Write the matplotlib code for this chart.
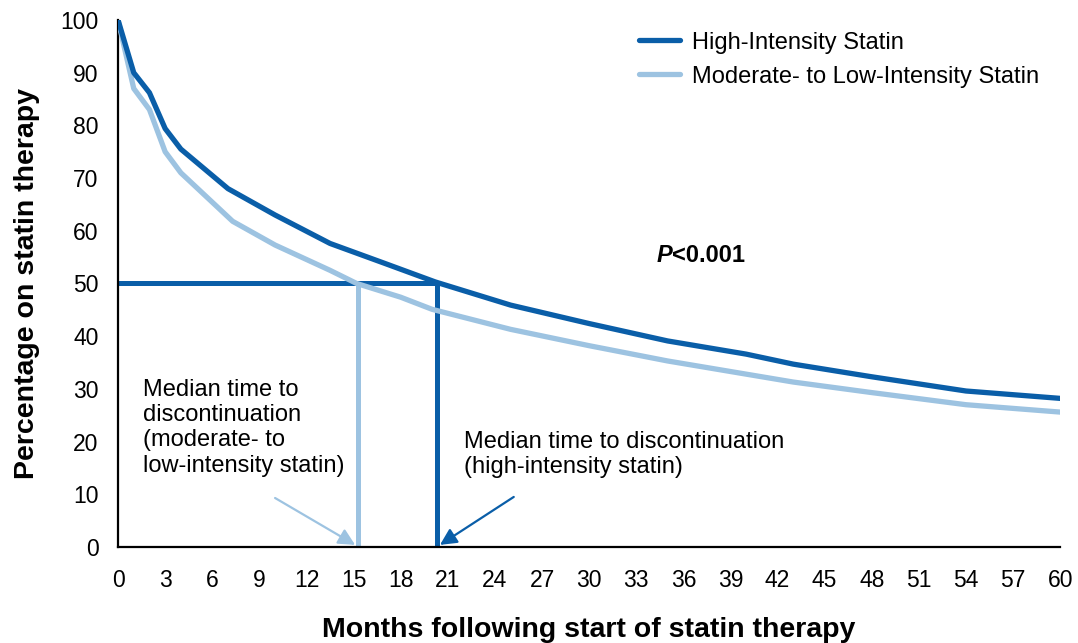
import numpy as np
import matplotlib
matplotlib.use("Agg")
import matplotlib.pyplot as plt

plt.rcParams['font.family'] = ['Liberation Sans', 'DejaVu Sans']

# data
months_high = [0, 1, 2, 3, 4, 7, 10, 13.5, 17, 20.2, 25, 30, 35, 40, 43, 48, 54, 60]
pct_high = [100, 90, 86.2, 79.4, 75.5, 68, 63, 57.6, 53.8, 50.3, 45.9, 42.4,
            39.1, 36.6, 34.7, 32.3, 29.6, 28.2]
months_low = [0, 1, 2, 3, 4, 7.3, 10, 13.5, 15.2, 18, 20, 25, 30, 35, 40, 43, 48, 54, 60]
pct_low = [100, 87, 83, 75, 71, 61.8, 57.3, 52.5, 50, 47.4, 45.1, 41.3, 38.2,
           35.3, 32.8, 31.3, 29.3, 27, 25.6]
median_high = 20.3
median_low = 15.3
x_ticks = list(range(0, 61, 3))
y_ticks = list(range(0, 101, 10))

dark = '#0A5EA8'
light = '#9DC3E1'
fs = 17

fig = plt.figure(figsize=(10.78, 6.43), dpi=100)
ax = fig.add_axes([0.1095, 0.1493, 0.874, 0.8196])

ax.plot(months_high, pct_high, color=dark, lw=3.8, solid_capstyle='round',
        label='High-Intensity Statin', zorder=4)
ax.plot(months_low, pct_low, color=light, lw=3.8, solid_capstyle='round',
        label='Moderate- to Low-Intensity Statin', zorder=3)

# median markers
ax.plot([0, median_high], [50, 50], color=dark, lw=3.6, solid_capstyle='butt', zorder=2)
ax.plot([median_low, median_low], [0, 50], color=light, lw=3.6, solid_capstyle='butt', zorder=2)
ax.plot([median_high, median_high], [0, 50], color=dark, lw=3.6, solid_capstyle='butt', zorder=2)

ax.annotate('', xy=(median_low - 0.2, 0.4), xytext=(10.0, 9.3),
            arrowprops=dict(arrowstyle='-|>,head_length=1.0,head_width=0.5',
                            color=light, lw=1.6, shrinkA=0, shrinkB=0))
ax.annotate('', xy=(median_high + 0.2, 0.4), xytext=(25.2, 9.5),
            arrowprops=dict(arrowstyle='-|>,head_length=1.0,head_width=0.5',
                            color=dark, lw=1.6, shrinkA=0, shrinkB=0))

ax.text(1.6, 31.9, 'Median time to\ndiscontinuation\n(moderate- to\nlow-intensity statin)',
        fontsize=fs, va='top', ha='left', linespacing=1.19)
ax.text(22.0, 22.1, 'Median time to discontinuation\n(high-intensity statin)',
        fontsize=fs, va='top', ha='left', linespacing=1.19)

tp = ax.text(34.3, 55.4, 'P', fontsize=fs, fontweight='bold', fontstyle='italic',
             va='center', ha='left')
ax.annotate('<0.001', xy=(1, 0), xycoords=tp, va='bottom', ha='left',
            fontsize=fs, fontweight='bold')

ax.set_xlim(0, 60)
ax.set_ylim(0, 100)
ax.set_xticks(x_ticks)
ax.set_yticks(y_ticks)
ax.tick_params(axis='both', length=0, labelsize=16.5)
ax.tick_params(axis='x', pad=16)
ax.tick_params(axis='y', pad=14)
for s in ['top', 'right']:
    ax.spines[s].set_visible(False)
for s in ['left', 'bottom']:
    ax.spines[s].set_linewidth(1.6)

ax.set_xlabel('Months following start of statin therapy', fontsize=20.5,
              fontweight='bold')
ax.set_ylabel('Percentage on statin therapy', fontsize=20.5, fontweight='bold')
ax.xaxis.set_label_coords(0.5, -0.132)
ax.yaxis.set_label_coords(-0.083, 0.5)

ax.legend(loc='upper right', bbox_to_anchor=(1.0, 1.018), frameon=False,
          fontsize=fs, handlelength=1.75, handletextpad=0.5, labelspacing=0.5)

fig.savefig('out.png', dpi=100)
